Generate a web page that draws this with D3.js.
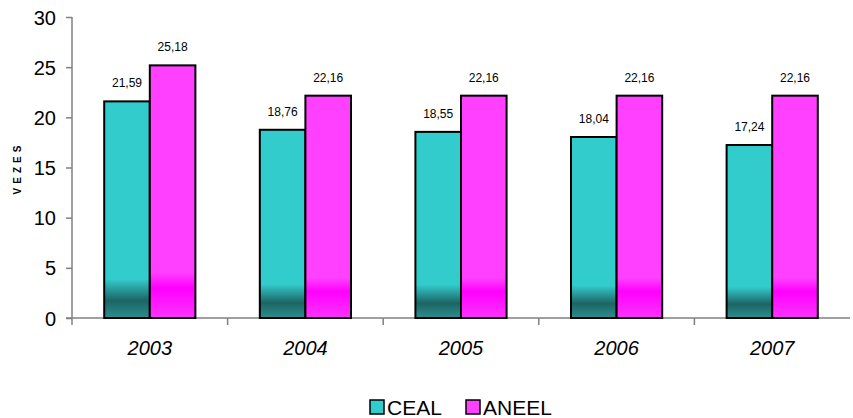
<!DOCTYPE html>
<html><head><meta charset="utf-8">
<script src="https://cdn.jsdelivr.net/npm/d3@7"></script>
<style>body{margin:0;background:#fff}svg{display:block}</style>
</head><body>
<svg id="c" width="853" height="418"></svg>
<script>
const categories = ["2003","2004","2005","2006","2007"];
const seriesNames = ["CEAL","ANEEL"];
const ceal = [21.59,18.76,18.55,18.04,17.24];
const aneel = [25.18,22.16,22.16,22.16,22.16];
const yTicks = [0,5,10,15,20,25,30];
const labelsCeal = ["21,59","18,76","18,55","18,04","17,24"];
const labelsAneel = ["25,18","22,16","22,16","22,16","22,16"];

const svg = d3.select("#c");
const font = "Liberation Sans, Arial, sans-serif";
const x = d3.scaleBand().domain(categories).range([72, 850]);
const y = d3.scaleLinear().domain([0,30]).range([318, 17]);
const bw = x.bandwidth();
const barW = bw*0.293;

const defs = svg.append("defs");
const g1 = defs.append("linearGradient").attr("id","gc").attr("x1",0).attr("y1",0).attr("x2",0).attr("y2",1);
[[0,"#33CCCC"],[0.82,"#33CCCC"],[0.92,"#1D6464"],[1,"#2B8F8F"]].forEach(s=>g1.append("stop").attr("offset",s[0]).attr("stop-color",s[1]));
const g2 = defs.append("linearGradient").attr("id","ga").attr("x1",0).attr("y1",0).attr("x2",0).attr("y2",1);
[[0,"#FF40FF"],[0.82,"#FF40FF"],[0.88,"#FF00FF"],[1,"#FF33FF"]].forEach(s=>g2.append("stop").attr("offset",s[0]).attr("stop-color",s[1]));

// axes
const yAxis = d3.axisLeft(y).tickValues(yTicks).tickSize(6).tickPadding(10);
const ya = svg.append("g").attr("transform","translate(72,0)").call(yAxis);
ya.select(".domain").attr("d","M0,17V325").attr("stroke","#808080").attr("stroke-width",1.5);
ya.selectAll(".tick line").attr("stroke","#808080").attr("stroke-width",1.5);
ya.selectAll(".tick text").attr("font-family",font).attr("font-size",20).attr("fill","#000").attr("dy","0.35em");

const xa = svg.append("g").attr("transform","translate(0,318)");
xa.append("line").attr("x1",66).attr("x2",850).attr("y1",0).attr("y2",0).attr("stroke","#808080").attr("stroke-width",1.5);
xa.selectAll("line.t").data(categories.slice(1)).join("line").attr("class","t")
  .attr("x1",d=>x(d)).attr("x2",d=>x(d)).attr("y1",0).attr("y2",7).attr("stroke","#808080").attr("stroke-width",1.5);
xa.selectAll("text").data(categories).join("text")
  .attr("x",d=>x(d)+bw/2).attr("y",37).attr("text-anchor","middle")
  .attr("font-family",font).attr("font-size",20).attr("font-style","italic").text(d=>d);

// bars
const series = [{vals:ceal, labs:labelsCeal, fill:"url(#gc)", off:-1},{vals:aneel, labs:labelsAneel, fill:"url(#ga)", off:0}];
series.forEach(s=>{
  svg.append("g").selectAll("rect").data(categories).join("rect")
    .attr("x",(d,i)=>x(d)+bw/2+s.off*barW).attr("width",barW)
    .attr("y",(d,i)=>y(s.vals[i])).attr("height",(d,i)=>y(0)-y(s.vals[i]))
    .attr("fill",s.fill).attr("stroke","#000").attr("stroke-width",2);
  svg.append("g").selectAll("text").data(categories).join("text")
    .attr("x",(d,i)=>x(d)+bw/2+s.off*barW+barW/2).attr("y",(d,i)=>y(s.vals[i])-14)
    .attr("text-anchor","middle").attr("font-family",font).attr("font-size",12).text((d,i)=>s.labs[i]);
});

// y title
svg.append("text").attr("transform","translate(21,168) rotate(-90)").attr("text-anchor","middle")
  .attr("font-family",font).attr("font-size",10).attr("font-weight","bold").attr("letter-spacing",4).text("VEZES");

// legend
const leg = svg.append("g");
const legX = [370, 466];
const legFill = ["#33CCCC","#FF40FF"];
seriesNames.forEach((n,i)=>{
  leg.append("rect").attr("x",legX[i]).attr("y",400).attr("width",14).attr("height",14)
    .attr("fill",legFill[i]).attr("stroke","#000").attr("stroke-width",1.5);
  leg.append("text").attr("x",legX[i]+17).attr("y",415).attr("font-family",font).attr("font-size",21).text(n);
});
</script>
</body></html>
